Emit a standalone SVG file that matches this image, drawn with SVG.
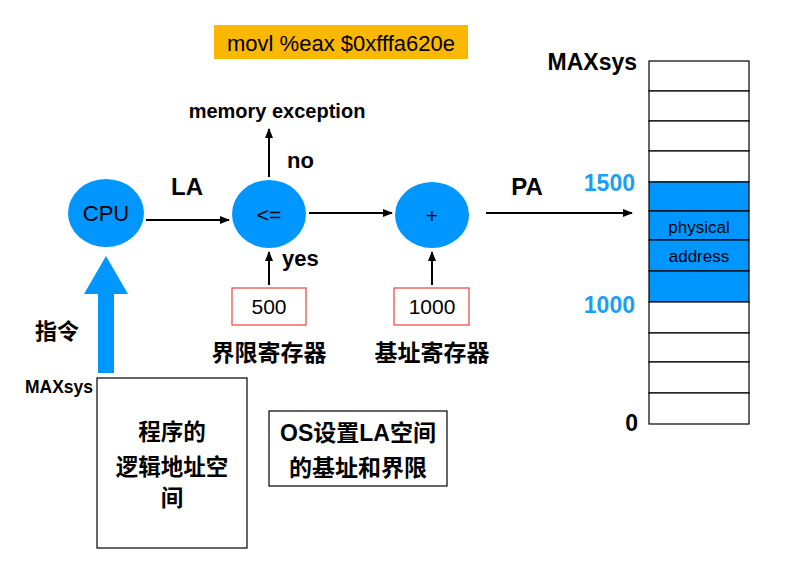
<svg xmlns="http://www.w3.org/2000/svg" width="791" height="570" viewBox="0 0 791 570">
<defs>
<marker id="ah" markerWidth="10" markerHeight="8" refX="9" refY="4" orient="auto" markerUnits="userSpaceOnUse">
<path d="M0,0 L10,4 L0,8 Z" fill="#000"/>
</marker>
<style>
text{font-family:"Liberation Sans","Noto Sans CJK SC",sans-serif;fill:#000}
.b{font-weight:bold}
.node{fill:#0096ff}
.reg{fill:#fff;stroke:#e8433a;stroke-width:1.2}
.box{fill:#fff;stroke:#000;stroke-width:1.2}
.cell{fill:#fff;stroke:#000;stroke-width:1.2}
.cellb{fill:#0096ff;stroke:#000;stroke-width:1.2}
.con{stroke:#000;stroke-width:2;fill:none;marker-end:url(#ah)}
.blue{fill:#1a9ff5}
</style>
</defs>
<rect width="791" height="570" fill="#fff"/>

<g id="instr">
<rect x="214" y="25" width="254" height="34" fill="#fbb800"/>
<text x="341" y="51" font-size="22" text-anchor="middle">movl %eax $0xfffa620e</text>
</g>

<g id="cpu">
<ellipse class="node" cx="106" cy="213" rx="38" ry="34"/>
<text x="106" y="221" font-size="22" text-anchor="middle">CPU</text>
</g>
<g id="cmp">
<ellipse class="node" cx="269" cy="214" rx="37" ry="34"/>
<text x="269" y="222" font-size="21" text-anchor="middle">&lt;=</text>
</g>
<g id="add">
<ellipse class="node" cx="432" cy="215" rx="37" ry="33"/>
<text x="432" y="223" font-size="21" text-anchor="middle">+</text>
</g>

<g id="limit">
<rect class="reg" x="232" y="288" width="74" height="37"/>
<text x="269" y="314" font-size="21" text-anchor="middle">500</text>
<text class="b" x="269" y="361" font-size="23" text-anchor="middle">界限寄存器</text>
</g>
<g id="base">
<rect class="reg" x="394" y="288" width="75" height="37"/>
<text x="432" y="314" font-size="21" text-anchor="middle">1000</text>
<text class="b" x="432" y="361" font-size="23" text-anchor="middle">基址寄存器</text>
</g>

<g id="exception">
<text class="b" x="277" y="118" font-size="20" text-anchor="middle">memory exception</text>
</g>

<g id="connectors">
<line class="con" x1="146" y1="220" x2="229" y2="220"/>
<line class="con" x1="309" y1="213" x2="392" y2="213"/>
<line class="con" x1="486" y1="213" x2="632" y2="213"/>
<line class="con" x1="269" y1="177" x2="269" y2="129"/>
<line class="con" x1="269" y1="285" x2="269" y2="252"/>
<line class="con" x1="432" y1="285" x2="432" y2="252"/>
<polygon points="106,256 128,294 114,294 114,373 98,373 98,294 84,294" fill="#0096ff"/>
</g>

<g id="labels">
<text class="b" x="187" y="195" font-size="24" text-anchor="middle">LA</text>
<text class="b" x="527" y="195" font-size="24" text-anchor="middle">PA</text>
<text class="b" x="287" y="168" font-size="22">no</text>
<text class="b" x="282" y="266" font-size="22">yes</text>
<text class="b" x="57" y="339" font-size="22" text-anchor="middle">指令</text>
<text class="b" x="59" y="393" font-size="17.5" text-anchor="middle">MAXsys</text>
</g>

<g id="program">
<rect class="box" x="97" y="378" width="150" height="170"/>
<text class="b" x="172" y="440" font-size="22.5" text-anchor="middle">程序的</text>
<text class="b" x="172" y="475" font-size="22.5" text-anchor="middle">逻辑地址空</text>
<text class="b" x="172" y="506" font-size="22.5" text-anchor="middle">间</text>
</g>

<g id="os">
<rect class="box" x="269" y="411" width="178" height="75"/>
<text class="b" x="358" y="441" font-size="23" text-anchor="middle">OS设置LA空间</text>
<text class="b" x="358" y="476" font-size="23" text-anchor="middle">的基址和界限</text>
</g>

<g id="memory">
<rect class="cell" x="649" y="61" width="100" height="30"/>
<rect class="cell" x="649" y="91" width="100" height="30"/>
<rect class="cell" x="649" y="121" width="100" height="30"/>
<rect class="cell" x="649" y="151" width="100" height="31"/>
<rect class="cellb" x="649" y="182" width="100" height="29"/>
<rect class="cellb" x="649" y="211" width="100" height="29"/>
<rect class="cellb" x="649" y="240" width="100" height="31"/>
<rect class="cellb" x="649" y="271" width="100" height="31"/>
<rect class="cell" x="649" y="302" width="100" height="31"/>
<rect class="cell" x="649" y="333" width="100" height="29"/>
<rect class="cell" x="649" y="362" width="100" height="31"/>
<rect class="cell" x="649" y="393" width="100" height="31"/>
<text x="699" y="233" font-size="17" text-anchor="middle">physical</text>
<text x="699" y="262" font-size="17" text-anchor="middle">address</text>
<text class="b" x="637" y="70" font-size="23" text-anchor="end">MAXsys</text>
<text class="b blue" x="635" y="191" font-size="23" text-anchor="end">1500</text>
<text class="b blue" x="635" y="313" font-size="23" text-anchor="end">1000</text>
<text class="b" x="638" y="431" font-size="23" text-anchor="end">0</text>
</g>
</svg>
